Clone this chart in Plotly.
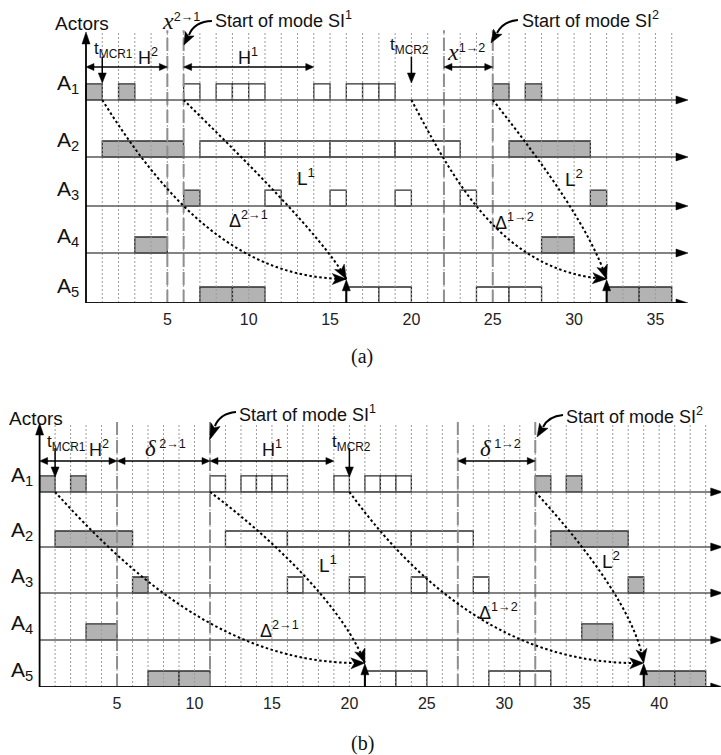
import math
import plotly.graph_objects as go

W, H = 721, 755
SANS = "Liberation Sans, Arial, sans-serif"
SERIF = "Liberation Serif, Times New Roman, serif"

# ------------------------------------------------------------------ data
actors = ["A1", "A2", "A3", "A4", "A5"]

# panel (a): busy intervals (start, end) of each actor
a_gray = {
    "A1": [(0, 1), (2, 3), (25, 26), (27, 28)],
    "A2": [(1, 6), (26, 31)],
    "A3": [(6, 7), (31, 32)],
    "A4": [(3, 5), (28, 30)],
    "A5": [(7, 9), (9, 11), (32, 34), (34, 36)],
}
a_white = {
    "A1": [(6, 7), (8, 9), (9, 10), (10, 11), (14, 15), (16, 17), (17, 18), (18, 19)],
    "A2": [(7, 11), (11, 15), (15, 19), (19, 23)],
    "A3": [(11, 12), (15, 16), (19, 20), (23, 24)],
    "A4": [],
    "A5": [(16, 18), (18, 20), (24, 26), (26, 28)],
}
a_mode_lines = [5, 6, 22, 25]
a_grid = list(range(1, 37))
a_ticks = [5, 10, 15, 20, 25, 30, 35]
a_mcr = [1, 20]
a_spans = [(0, 5), (6, 14), (22, 25)]
a_outputs = [16, 32]

# panel (b)
b_gray = {
    "A1": [(0, 1), (2, 3), (32, 33), (34, 35)],
    "A2": [(1, 6), (33, 38)],
    "A3": [(6, 7), (38, 39)],
    "A4": [(3, 5), (35, 37)],
    "A5": [(7, 9), (9, 11), (39, 41), (41, 43)],
}
b_white = {
    "A1": [(11, 12), (13, 14), (14, 15), (15, 16), (19, 20), (21, 22), (22, 23), (23, 24)],
    "A2": [(12, 16), (16, 20), (20, 24), (24, 28)],
    "A3": [(16, 17), (20, 21), (24, 25), (28, 29)],
    "A4": [],
    "A5": [(21, 23), (23, 25), (29, 31), (31, 33)],
}
b_mode_lines = [5, 11, 27, 32]
b_grid = list(range(1, 44))
b_ticks = [5, 10, 15, 20, 25, 30, 35, 40]
b_mcr = [1, 20]
b_spans = [(0, 5), (5, 11), (11, 19), (27, 32)]
b_outputs = [21, 39]

# ------------------------------------------------------------------ layout geometry
PANELS = {
    "a": dict(xref="x", yref="y", xr=[-86 / 16.27, (W - 86) / 16.27],
              yd=[1 - 303 / H, 1.0], yr=[0, 303 / 16],
              rows=[12.69, 9.125, 6.06, 3.125, 0.0], top=16.94, end=37.0,
              span_y=14.75, mcr_y=(15.4, 13.75)),
    "b": dict(xref="x2", yref="y2", xr=[-39.6 / 15.49, (W - 39.6) / 15.49],
              yd=[68 / H, 1 - 395 / H], yr=[0, 292 / 16],
              rows=[12.19, 8.75, 5.875, 2.94, 0.0], top=16.5, end=44.1,
              span_y=14.125, mcr_y=(14.94, 13.125)),
}
for P in PANELS.values():
    P["sx"] = W / (P["xr"][1] - P["xr"][0])
    P["sy"] = H * (P["yd"][1] - P["yd"][0]) / (P["yr"][1] - P["yr"][0])

GRAY = "#b3b3b3"
shapes = []
annotations = []


def line(P, x0, y0, x1, y1, color="#000", width=1.5, dash=None):
    ln = dict(color=color, width=width)
    if dash:
        ln["dash"] = dash
    shapes.append(dict(type="line", xref=P["xref"], yref=P["yref"],
                       x0=x0, y0=y0, x1=x1, y1=y1, line=ln))


def rect(P, x0, x1, y0, y1, fill):
    shapes.append(dict(type="rect", xref=P["xref"], yref=P["yref"],
                       x0=x0, x1=x1, y0=y0, y1=y1, fillcolor=fill,
                       line=dict(color="#2e2e2e", width=1.3)))


def head(P, tx, ty, dx, dy, L=12, Wd=8, notch=0.0):
    vx, vy = dx * P["sx"], dy * P["sy"]
    n = math.hypot(vx, vy)
    vx, vy = vx / n, vy / n
    nx, ny = -vy, vx
    off = [(0, 0),
           (-vx * L + nx * Wd / 2, -vy * L + ny * Wd / 2),
           (-vx * L * (1 - notch), -vy * L * (1 - notch)),
           (-vx * L - nx * Wd / 2, -vy * L - ny * Wd / 2)]
    pts = [(tx + ox / P["sx"], ty + oy / P["sy"]) for ox, oy in off]
    path = "M " + " L ".join(f"{x:.4f},{y:.4f}" for x, y in pts) + " Z"
    shapes.append(dict(type="path", xref=P["xref"], yref=P["yref"], path=path,
                       fillcolor="#000", line=dict(color="#000", width=0.5)))


def bez(P, pts, width=1.6, dash="dot"):
    (x0, y0), (x1, y1), (x2, y2), (x3, y3) = pts
    path = f"M {x0},{y0} C {x1},{y1} {x2},{y2} {x3},{y3}"
    ln = dict(color="#000", width=width)
    if dash:
        ln["dash"] = dash
    shapes.append(dict(type="path", xref=P["xref"], yref=P["yref"], path=path,
                       fillcolor="rgba(0,0,0,0)", line=ln))


def text(P, x, y, s, size=18, xanchor="left", yanchor="middle", family=SANS):
    annotations.append(dict(xref=P["xref"], yref=P["yref"], x=x, y=y, text=s,
                            showarrow=False, xanchor=xanchor, yanchor=yanchor,
                            font=dict(family=family, size=size, color="#111")))


def build(P, gray, white, modes, grid, mcr, spans, outputs):
    rows = P["rows"]
    for i, a in enumerate(actors):
        for s, e in gray[a]:
            rect(P, s, e, rows[i], rows[i] + 1, GRAY)
        for s, e in white[a]:
            rect(P, s, e, rows[i], rows[i] + 1, "#ffffff")
    for g in grid:
        line(P, g, 0, g, P["top"], color="#9c9c9c", width=1, dash="2px,2px")
    for m in modes:
        line(P, m, 0, m, P["top"] + 0.1, color="#8f8f8f", width=2, dash="13px,5px")
    for i in range(len(actors)):
        col, wid = ("#1a1a1a", 2) if i == len(actors) - 1 else ("#5a5a5a", 1.6)
        line(P, 0, rows[i], P["end"] - 0.5, rows[i], color=col, width=wid)
        head(P, P["end"], rows[i], 1, 0, L=12, Wd=8)
        text(P, -0.3, rows[i] + 1.0, f"A<sub>{i + 1}</sub>", 21, xanchor="right")
    line(P, 0, 0, 0, P["top"] - 0.4, color="#000", width=1.8)
    head(P, 0, P["top"], 0, 1, L=12, Wd=8)
    # t_MCR arrows
    for m in mcr:
        line(P, m, P["mcr_y"][0], m, P["mcr_y"][1] + 0.3, width=1.5)
        head(P, m, P["mcr_y"][1], 0, -1, L=10, Wd=8)
    # spans (double arrows)
    for s, e in spans:
        line(P, s + 0.2, P["span_y"], e - 0.2, P["span_y"], width=1.4)
        head(P, s, P["span_y"], -1, 0, L=8, Wd=7)
        head(P, e, P["span_y"], 1, 0, L=8, Wd=7)
    # arrival arrows at A5
    for o in outputs:
        line(P, o, 0, o, 1.0, width=2)
        head(P, o, 1.45, 0, 1, L=11, Wd=8)


A, B = PANELS["a"], PANELS["b"]
build(A, a_gray, a_white, a_mode_lines, a_grid, a_mcr, a_spans, a_outputs)
build(B, b_gray, b_white, b_mode_lines, b_grid, b_mcr, b_spans, b_outputs)

# dependency curves (dotted) with arrowheads
curves = [
    (A, [(1, 12.69), (4.5, 7.0), (9, 1.5), (16, 1.5)]),
    (A, [(6, 12.69), (9.5, 9.2), (14.5, 4.2), (16, 1.5)]),
    (A, [(20, 12.69), (22.5, 7.9), (25.5, 1.9), (32, 1.5)]),
    (A, [(25, 12.69), (28.5, 8.2), (31, 4.5), (32, 1.5)]),
    (B, [(1, 12.19), (5.5, 7.4), (12, 1.3), (21, 1.5)]),
    (B, [(11, 12.19), (15, 9.3), (19.6, 5.0), (21, 1.5)]),
    (B, [(20, 12.19), (24, 6.9), (30, 1.3), (39, 1.5)]),
    (B, [(32, 12.19), (35.5, 8.5), (38.5, 4.5), (39, 1.5)]),
]
for P, pts in curves:
    bez(P, pts, width=2.0, dash="2.5px,2.5px")
    (x2, y2), (x3, y3) = pts[2], pts[3]
    head(P, x3, y3, x3 - x2, y3 - y2, L=14, Wd=11, notch=0.25)

# "Start of mode" solid curved arrows
mode_arrows = [
    (A, [(7.74, 17.63), (7.01, 17.63), (6.52, 17.25), (6.33, 16.75)], (6.02, 16.125)),
    (A, [(26.55, 17.69), (25.88, 17.63), (25.45, 17.25), (25.26, 16.875)], (24.89, 16.25)),
    (B, [(12.68, 17.19), (11.97, 17.125), (11.52, 16.81), (11.32, 16.31)], (10.97, 15.44)),
    (B, [(33.79, 17.0), (33.08, 16.94), (32.69, 16.625), (32.5, 16.25)], (32.11, 15.625)),
]
for P, pts, tip in mode_arrows:
    bez(P, pts, width=2.0, dash=None)
    ex, ey = pts[3]
    L = math.hypot((tip[0] - ex) * P["sx"], (tip[1] - ey) * P["sy"]) + 1.5
    head(P, tip[0], tip[1], tip[0] - ex, tip[1] - ey, L=L, Wd=10, notch=0.2)

X21 = '<span style="font-family:Liberation Serif;font-size:24px"><i>x</i></span><sup>2→1</sup>'
X12 = '<span style="font-family:Liberation Serif;font-size:24px"><i>x</i></span><sup>1→2</sup>'
D21 = '<span style="font-family:Liberation Serif;font-size:23px"><i>δ</i></span><sup> 2→1</sup>'
D12 = '<span style="font-family:Liberation Serif;font-size:23px"><i>δ</i></span><sup> 1→2</sup>'

# panel (a) texts
text(A, -0.25, 17.44, "Actors", 19, xanchor="center")
text(A, 4.55, 17.6, X21, 18)
text(A, 7.81, 17.69, "Start of mode SI<sup>1</sup>", 18)
text(A, 0.37, 15.8, "t<sub>MCR1</sub>", 17)
text(A, 3.07, 15.4, "H<sup>2</sup>", 18)
text(A, 9.22, 15.4, "H<sup>1</sup>", 18)
text(A, 18.56, 16.06, "t<sub>MCR2</sub>", 17)
text(A, 22.07, 15.7, X12, 18)
text(A, 26.67, 17.69, "Start of mode SI<sup>2</sup>", 18)
text(A, 12.85, 7.9, "L<sup>1</sup>", 19)
text(A, 8.67, 5.2, "Δ<sup>2→1</sup>", 18)
text(A, 29.32, 7.8, "L<sup>2</sup>", 19)
text(A, 25.0, 5.1, "Δ<sup>1→2</sup>", 18)

# panel (b) texts
text(B, -0.23, 16.8, "Actors", 19, xanchor="center")
text(B, 0.35, 15.25, "t<sub>MCR1</sub>", 17)
text(B, 3.06, 14.9, "H<sup>2</sup>", 18)
text(B, 6.68, 14.9, D21, 18)
text(B, 12.74, 17.1, "Start of mode SI<sup>1</sup>", 18)
text(B, 14.23, 14.9, "H<sup>1</sup>", 18)
text(B, 18.75, 15.25, "t<sub>MCR2</sub>", 17)
text(B, 28.3, 14.9, D12, 18)
text(B, 33.85, 17.0, "Start of mode SI<sup>2</sup>", 18)
text(B, 17.91, 7.7, "L<sup>1</sup>", 19)
text(B, 14.1, 3.6, "Δ<sup>2→1</sup>", 18)
text(B, 36.18, 7.95, "L<sup>2</sup>", 19)
text(B, 28.24, 4.7, "Δ<sup>1→2</sup>", 18)

for lab, yp in (("(a)", 1 - 356 / H), ("(b)", 1 - 743 / H)):
    annotations.append(dict(xref="paper", yref="paper", x=362 / W, y=yp, text=lab,
                            showarrow=False, xanchor="center", yanchor="middle",
                            font=dict(family=SERIF, size=20, color="#111")))

fig = go.Figure()
for xa, ya in (("x", "y"), ("x2", "y2")):
    fig.add_trace(go.Scatter(x=[0], y=[0], xaxis=xa, yaxis=ya, mode="markers",
                             marker=dict(opacity=0), hoverinfo="skip", showlegend=False))


def xaxis(P, ticks, anchor):
    return dict(domain=[0, 1], range=P["xr"], anchor=anchor, showgrid=False,
                zeroline=False, showline=False, ticks="", tickmode="array",
                tickvals=ticks, ticktext=[str(t) for t in ticks],
                ticklabelstandoff=5,
                tickfont=dict(family=SANS, size=16, color="#222"), fixedrange=True)


def yaxis(P, anchor):
    return dict(domain=P["yd"], range=P["yr"], anchor=anchor, visible=False,
                showgrid=False, zeroline=False, fixedrange=True)


fig.update_layout(
    width=W, height=H, margin=dict(l=0, r=0, t=0, b=0),
    paper_bgcolor="white", plot_bgcolor="white", showlegend=False,
    xaxis=xaxis(A, a_ticks, "y"), yaxis=yaxis(A, "x"),
    xaxis2=xaxis(B, b_ticks, "y2"), yaxis2=yaxis(B, "x2"),
    shapes=shapes, annotations=annotations,
)
fig.write_html(
    "out.html",
    config={"displayModeBar": False},
    post_script="document.body.style.margin='0';document.body.style.overflow='hidden';",
)
